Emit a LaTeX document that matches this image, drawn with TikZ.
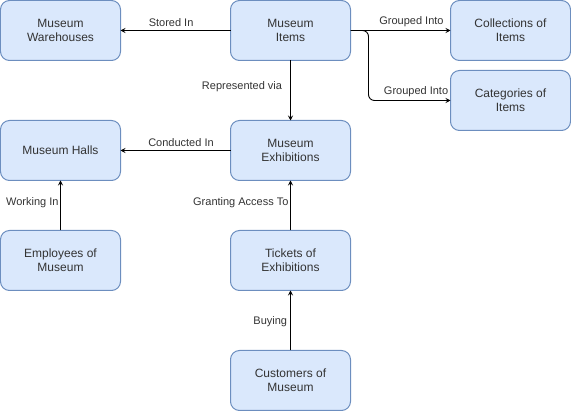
\documentclass[tikz,border=0pt]{standalone}
\usepackage{fontspec}
\setmainfont{Liberation Sans}
\usetikzlibrary{arrows.meta}

\definecolor{boxfill}{HTML}{DAE8FC}
\definecolor{boxline}{HTML}{6C8EBF}
\definecolor{txt}{HTML}{333333}

\begin{document}
\begin{tikzpicture}[x=1pt, y=-1pt,
  entity/.style={draw=boxline, fill=boxfill, line width=1pt, rounded corners=9pt,
    minimum width=120pt, minimum height=60pt, inner sep=0pt, outer sep=0pt,
    align=center, text=txt, font=\fontsize{12}{14}\selectfont},
  rel/.style={-{Stealth[length=5pt,width=5pt,inset=2pt]}, line width=0.9pt},
  lbl/.style={font=\fontsize{11}{13}\selectfont, text=txt}]

\useasboundingbox (-0.5,-0.5) rectangle (570.5,410.5);

% top row
\node[entity] (warehouses) at (60,30) {Museum\\Warehouses};
\node[entity] (items) at (290,30) {Museum\\Items};
\node[entity] (collections) at (510,30) {Collections of\\Items};
\node[entity] (categories) at (510,100) {Categories of\\Items};

% middle rows
\node[entity] (halls) at (60,150) {Museum Halls};
\node[entity] (exhibitions) at (290,150) {Museum\\Exhibitions};
\node[entity] (employees) at (60,260) {Employees of\\Museum};
\node[entity] (tickets) at (290,260) {Tickets of\\Exhibitions};

% bottom
\node[entity] (customers) at (290,380) {Customers of\\Museum};

% relations out of the items
\draw[rel] (items.west) -- (warehouses.east) node[lbl, above, pos=0.54, inner sep=3pt] {Stored In};
\draw[rel] (items.east) -- (collections.west) node[lbl, above, pos=0.61, inner sep=3pt] {Grouped Into};
\draw[rel, rounded corners=6pt] (items.east) -- ++(18,0) |- (categories.west)
  node[lbl, above, pos=0.79, inner sep=3pt] {Grouped Into};
\draw[rel] (items.south) -- (exhibitions.north) node[lbl, left, pos=0.43, inner sep=8pt] {Represented via};

% exhibitions and halls
\draw[rel] (exhibitions.west) -- (halls.east) node[lbl, above, pos=0.45, inner sep=3pt] {Conducted In};
\draw[rel] (employees.north) -- (halls.south) node[lbl, left, pos=0.56, inner sep=1.5pt] {Working In};

% visitors
\draw[rel] (tickets.north) -- (exhibitions.south) node[lbl, left, pos=0.56, inner sep=1.5pt] {Granting Access To};
\draw[rel] (customers.north) -- (tickets.south) node[lbl, left, pos=0.48, inner sep=3pt] {Buying};

\end{tikzpicture}
\end{document}
